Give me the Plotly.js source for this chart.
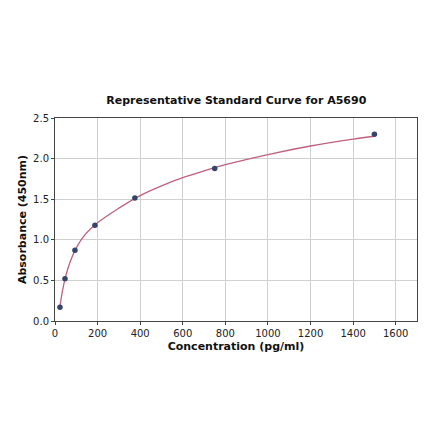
<!DOCTYPE html>
<html>
<head>
<meta charset="utf-8">
<script src="https://cdn.plot.ly/plotly-3.0.1.min.js"></script>
<style>
  html, body { margin: 0; padding: 0; background: #fff; }
  #chart { width: 440px; height: 441px; }
</style>
</head>
<body>
<div id="chart"></div>
<script>
// Standard points (concentration pg/ml, absorbance 450nm)
const concentration = [23.4, 46.9, 93.75, 187.5, 375, 750, 1500];
const absorbance = [0.17, 0.52, 0.87, 1.18, 1.515, 1.877, 2.30];

// Fitted curve
const curveX = [23.4, 35, 50, 70, 100, 140, 200, 300, 400, 500, 600, 700, 800, 1000, 1200, 1400, 1500];
const curveY = [0.18, 0.37, 0.55, 0.72, 0.90, 1.06, 1.21, 1.39, 1.545, 1.665, 1.765, 1.85, 1.925, 2.05, 2.155, 2.24, 2.275];

const xTicks = [0, 200, 400, 600, 800, 1000, 1200, 1400, 1600];
const yTicks = [0.0, 0.5, 1.0, 1.5, 2.0, 2.5];

const fontFamily = 'DejaVu Sans, sans-serif';

const traces = [
  {
    x: curveX,
    y: curveY,
    type: 'scatter',
    mode: 'lines',
    line: { color: '#c0607e', width: 1.3, shape: 'spline', smoothing: 1 },
    hoverinfo: 'skip'
  },
  {
    x: concentration,
    y: absorbance,
    type: 'scatter',
    mode: 'markers',
    marker: { color: '#34446a', size: 5.5 }
  }
];

const layout = {
  width: 440,
  height: 441,
  showlegend: false,
  paper_bgcolor: '#ffffff',
  plot_bgcolor: '#ffffff',
  margin: { l: 54.7, r: 23, t: 118.3, b: 120.3 },
  font: { family: fontFamily, size: 10, color: '#222' },
  title: {
    text: '<b>Representative Standard Curve for A5690</b>',
    x: 0.537,
    xanchor: 'center',
    y: 0.773,
    yanchor: 'middle',
    font: { family: fontFamily, size: 11, color: '#111' }
  },
  xaxis: {
    range: [0, 1700],
    tickvals: xTicks,
    ticktext: xTicks.map(String),
    showgrid: true,
    gridcolor: '#d0d0d0',
    gridwidth: 1,
    zeroline: false,
    showline: true,
    linecolor: '#444',
    linewidth: 1,
    mirror: true,
    ticks: 'outside',
    ticklen: 3,
    tickcolor: '#444',
    tickfont: { size: 10, color: '#222' },
    title: { text: '<b>Concentration (pg/ml)</b>', font: { size: 11, color: '#111' }, standoff: 4 }
  },
  yaxis: {
    range: [0, 2.5],
    tickvals: yTicks,
    ticktext: yTicks.map(v => v.toFixed(1)),
    showgrid: true,
    gridcolor: '#d0d0d0',
    gridwidth: 1,
    zeroline: false,
    showline: true,
    linecolor: '#444',
    linewidth: 1,
    mirror: true,
    ticks: 'outside',
    ticklen: 3,
    tickcolor: '#444',
    tickfont: { size: 10, color: '#222' },
    title: { text: '<b>Absorbance (450nm)</b>', font: { size: 11, color: '#111' }, standoff: 4 }
  }
};

Plotly.newPlot('chart', traces, layout, { staticPlot: true, displayModeBar: false });
</script>
</body>
</html>
